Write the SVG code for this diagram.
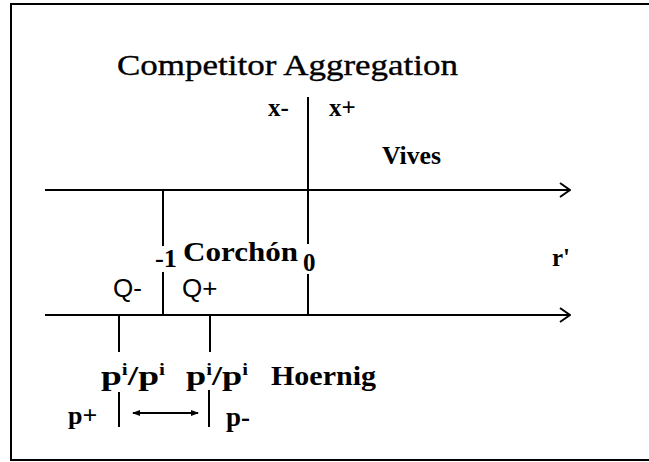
<svg xmlns="http://www.w3.org/2000/svg" width="649" height="462" viewBox="0 0 649 462">
<style>
text{font-family:"Liberation Serif","Times New Roman",serif;fill:#000;font-weight:bold;font-size:26px}
.sans{font-family:"Liberation Sans",Arial,sans-serif;font-weight:normal}
.title{font-size:29px;font-weight:normal;stroke:#000;stroke-width:0.35}
.ln{stroke:#000;stroke-width:2;fill:none}
.sup{font-size:16px}
</style>
<defs>
<marker id="chev" viewBox="0 0 12 16" refX="11" refY="8" markerWidth="12" markerHeight="16" markerUnits="userSpaceOnUse" orient="auto">
<path d="M1,1 L11,8 L1,15" fill="none" stroke="#000" stroke-width="2"/>
</marker>
<marker id="sm" viewBox="0 0 8 8" refX="7" refY="4" markerWidth="8" markerHeight="8" markerUnits="userSpaceOnUse" orient="auto-start-reverse">
<path d="M0,1 L8,4 L0,7 Z" fill="#000"/>
</marker>
</defs>
<rect x="11" y="4" width="700" height="456" class="ln"/>
<g id="connectors">
<line class="ln" x1="45" y1="190" x2="570" y2="190" marker-end="url(#chev)"/>
<line class="ln" x1="45" y1="315" x2="570" y2="315" marker-end="url(#chev)"/>
<line class="ln" x1="308" y1="97" x2="308" y2="244"/>
<line class="ln" x1="308" y1="274" x2="308" y2="315"/>
<line class="ln" x1="163" y1="190" x2="163" y2="246"/>
<line class="ln" x1="163" y1="272" x2="163" y2="315"/>
<line class="ln" x1="119" y1="315" x2="119" y2="352"/>
<line class="ln" x1="210" y1="315" x2="210" y2="352"/>
<line class="ln" x1="119" y1="392" x2="119" y2="427"/>
<line class="ln" x1="209" y1="390" x2="209" y2="427"/>
<line class="ln" x1="133" y1="413" x2="198" y2="413" marker-start="url(#sm)" marker-end="url(#sm)"/>
</g>
<g id="title"><text class="title" x="117" y="75" textLength="341" lengthAdjust="spacingAndGlyphs">Competitor Aggregation</text></g>
<g id="vives">
<text x="268" y="116" style="font-size:25px">x-</text>
<text x="329" y="116" style="font-size:25px">x+</text>
<text x="382" y="164" textLength="59" lengthAdjust="spacingAndGlyphs">Vives</text>
</g>
<g id="corchon">
<text x="155" y="267" style="font-size:25px" textLength="22" lengthAdjust="spacingAndGlyphs">-1</text>
<text x="183" y="261" style="font-size:28px" textLength="115" lengthAdjust="spacingAndGlyphs">Corchón</text>
<text x="303" y="271" style="font-size:25px">0</text>
<text x="552" y="266" style="font-size:25px">r'</text>
<text class="sans" x="113" y="297" style="font-size:26px">Q-</text>
<text class="sans" x="182" y="297" style="font-size:26px">Q+</text>
</g>
<g id="hoernig">
<text x="101" y="385" style="font-size:28px" textLength="64" lengthAdjust="spacingAndGlyphs">p<tspan class="sup" dy="-10">i</tspan><tspan dy="10">/p</tspan><tspan class="sup" dy="-10">i</tspan></text>
<text x="186" y="385" style="font-size:28px" textLength="62" lengthAdjust="spacingAndGlyphs">p<tspan class="sup" dy="-10">i</tspan><tspan dy="10">/p</tspan><tspan class="sup" dy="-10">i</tspan></text>
<text x="271" y="385" style="font-size:28px" textLength="105" lengthAdjust="spacingAndGlyphs">Hoernig</text>
<text x="68" y="424">p+</text>
<text x="226" y="426" style="font-size:27px">p-</text>
</g>
</svg>
